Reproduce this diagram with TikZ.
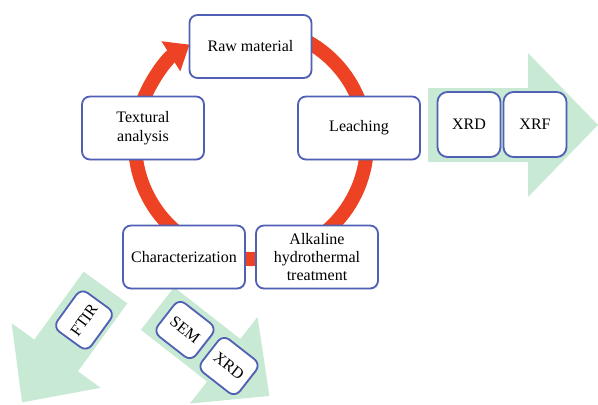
\documentclass[tikz,border=0pt]{standalone}
\usepackage{fontspec}
\setmainfont{Liberation Serif}
\usetikzlibrary{arrows.meta, shadows}

\definecolor{ringred}{HTML}{EE4224}
\definecolor{boxblue}{HTML}{5060B4}
\definecolor{arrowgreen}{HTML}{C8EAD4}

\begin{document}
\begin{tikzpicture}[x=0.5pt, y=0.5pt]

\tikzset{stage/.style = {shape=rectangle, rounded corners=4pt, draw=boxblue, line width=0.9pt, fill=white,
    minimum width=61pt, minimum height=31.5pt, align=center, font=\fontsize{8}{9.2}\selectfont,
    drop shadow={opacity=0.2, shadow xshift=0.4pt, shadow yshift=-0.6pt}}}
\tikzset{probe/.style = {stage, rounded corners=5pt, minimum width=31.5pt, minimum height=32.5pt}}
\tikzset{tiltprobe/.style = {stage, rounded corners=4pt, minimum width=24pt, minimum height=21pt}}
\tikzset{greenarrow/.style = {fill=arrowgreen}}
\tikzset{ring/.style = {draw=ringred, line width=7pt, -{Triangle[width=17pt, length=11pt]}}}

\useasboundingbox (0,0) rectangle (598,404);
\clip (0,0) rectangle (598,404);

%green arrows
\begin{scope}[shift={(428,279)}]
\fill[greenarrow] (0,-37) -- (100,-37) -- (100,-72) -- (170,0) -- (100,72) -- (100,37) -- (0,37) -- cycle;
\end{scope}
\begin{scope}[shift={(105.5,116.5)}, rotate=234]
\fill[greenarrow] (0,-27) -- (84,-27) -- (84,-55) -- (142,0) -- (84,55) -- (84,27) -- (0,27) -- cycle;
\end{scope}
\begin{scope}[shift={(157.5,95.5)}, rotate=-38]
\fill[greenarrow] (0,-27) -- (84,-27) -- (84,-55) -- (142,0) -- (84,55) -- (84,27) -- (0,27) -- cycle;
\end{scope}

%ring
\coordinate (ringc) at (251,261);
\draw[ring] ([shift={(70:58pt)}]ringc) arc[start angle=70, end angle=-238, radius=58pt];

%stages
\node[stage] (raw) at (250.5,357.5) {Raw material};
\node[stage] (leach) at (359,276) {Leaching};
\node[stage] (alkaline) at (317,147) {Alkaline\\hydrothermal\\treatment};
\node[stage] (charac) at (184,147) {Characterization};
\node[stage] (textural) at (143,276) {Textural\\analysis};

%probes
\node[probe] (xrd1) at (469,279.5) {XRD};
\node[probe] (xrf) at (535,279.5) {XRF};
\node[tiltprobe, rotate=54] (ftir) at (84,84) {FTIR};
\node[tiltprobe, rotate=-38] (sem) at (185,74) {SEM};
\node[tiltprobe, rotate=-38] (xrd2) at (229,38) {XRD};

\end{tikzpicture}
\end{document}
